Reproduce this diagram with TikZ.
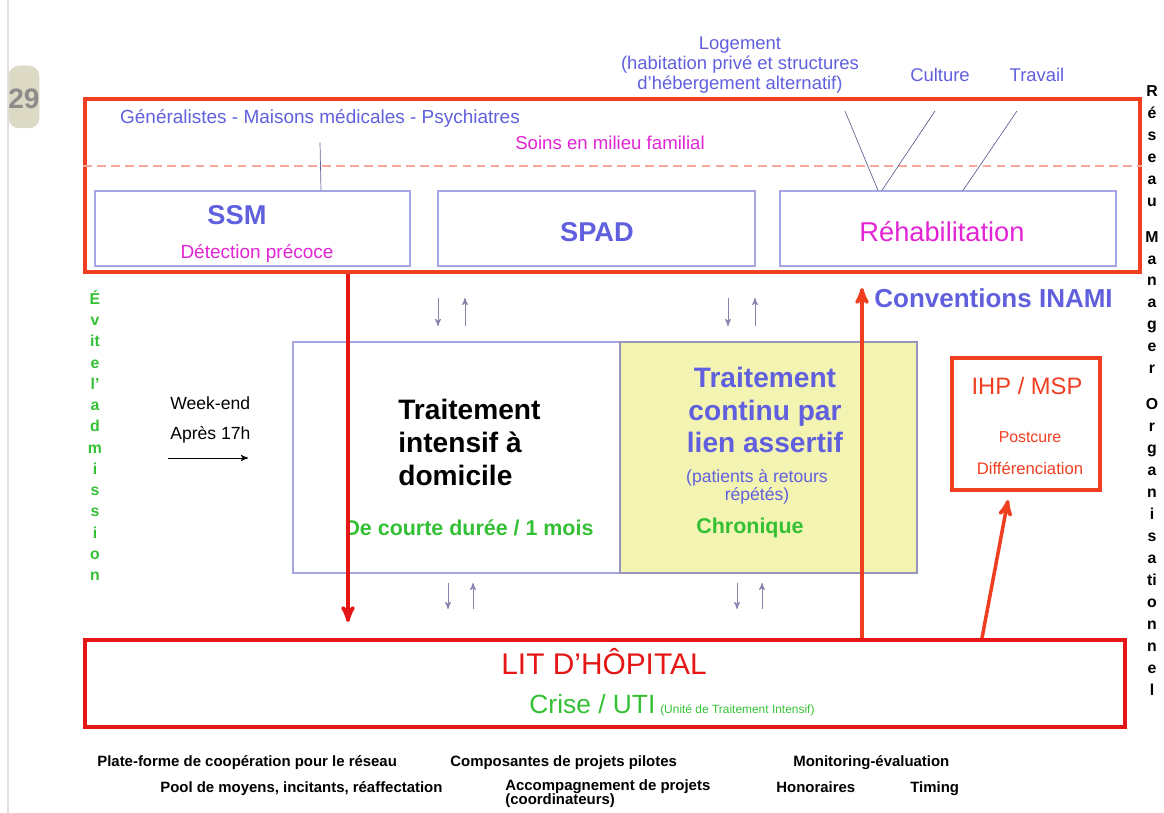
\documentclass[tikz,border=0pt]{standalone}
\usepackage{fontspec}
\setmainfont{Liberation Sans}
\usetikzlibrary{calc,fit,arrows}

\definecolor{frame}{RGB}{240,62,32}
\definecolor{hosp}{RGB}{228,22,22}
\definecolor{ink}{RGB}{96,96,222}
\definecolor{pink}{RGB}{226,36,212}
\definecolor{grn}{RGB}{52,192,52}
\definecolor{lilac}{RGB}{165,165,228}
\definecolor{pale}{RGB}{243,243,178}
\definecolor{wire}{RGB}{100,100,150}
\definecolor{badge}{RGB}{220,217,196}

\newcommand{\fs}[2]{\fontsize{#1}{#2}\selectfont}

\tikzset{
  redbox/.style={draw=frame,line width=2.2pt,inner sep=0pt},
  thinbox/.style={draw=lilac,line width=0.6pt,inner sep=0pt},
  lab/.style={inner sep=0pt,align=center},
  pair/.style={draw=wire!80,line width=0.5pt,->,>=stealth'},
  bigarrow/.style={line width=2pt,->,>=stealth'},
  foot/.style={inner sep=0pt,anchor=base west,font=\bfseries\fs{8.5}{10}},
}

\begin{document}
\begin{tikzpicture}[x=0.02cm,y=-0.02cm]
\useasboundingbox (0,0) rectangle (1164,813);
\draw[black!12,line width=1pt] (8,0) -- (8,813);
\node[fill=badge,rounded corners=6pt,minimum width=0.62cm,minimum height=1.25cm,inner sep=0pt] (page) at (24,97) {};
\node[lab,text=black!45,font=\bfseries\fs{16}{18}] at (24,99) {29};

% upper frame
\node[redbox,fit={(85,99) (1140,272)}] (top) {};
\coordinate (dash) at (0,166);
\draw[frame!45,line width=0.7pt,dash pattern=on 5pt off 3pt] (top.west |- dash) -- (top.east |- dash);
\node[lab,text=ink,font=\fs{10.8}{13}] (gen) at (320,118) {Généralistes - Maisons médicales - Psychiatres};
\node[lab,text=pink,font=\fs{10.6}{13}] (soins) at (610,143) {Soins en milieu familial};

\node[thinbox,fit={(95,191) (410,266)}] (ssm) {};
\node[thinbox,fit={(438,191) (755,266)}] (spad) {};
\node[thinbox,fit={(780,191) (1116,266)}] (rehab) {};
\node[lab,text=ink,font=\bfseries\fs{15.5}{18}] at (237,215) {SSM};
\node[lab,text=pink,font=\fs{10.8}{13}] at (257,253) {Détection précoce};
\node[lab,text=ink,font=\bfseries\fs{15.5}{18}] at (597,232) {SPAD};
\node[lab,text=pink,font=\fs{15.5}{18}] at (942,232) {Réhabilitation};

\draw[wire] ([yshift=-0.3cm]gen.south) -- (ssm.north -| 321,0);

\node[lab,text=ink,font=\fs{10.5}{11.5}] (loge) at (740,65) {Logement\\(habitation privé et structures\\d'hébergement alternatif)};
\node[lab,text=ink,font=\fs{10.5}{13}] (cult) at (940,75) {Culture};
\node[lab,text=ink,font=\fs{10.5}{13}] (trav) at (1037,75) {Travail};
\coordinate (l1) at (845,111);
\coordinate (l2) at (935,111);
\coordinate (l3) at (1017,111);
\draw[wire] (l1) -- (rehab.north -| 878,0);
\draw[wire] (l2) -- (rehab.north -| 882,0);
\draw[wire] (l3) -- (rehab.north -| 963,0);

% side texts
\node[lab,anchor=north,text=grn,font=\bfseries\fs{9}{12.1}] (evite) at (95,290)
  {É\\v\\it\\e\\l'\\a\\d\\m\\i\\s\\s\\i\\o\\n};
\node[lab,anchor=north,font=\bfseries\fs{9}{12.5}] (reseau) at (1152,85)
  {R\\é\\s\\e\\a\\u\\[8pt]M\\a\\n\\a\\g\\e\\r\\[8pt]O\\r\\g\\a\\n\\i\\s\\a\\ti\\o\\n\\n\\e\\l};

% middle boxes
\node[thinbox,fill=white,fit={(293,342) (620,573)}] (home) {};
\node[draw=lilac!60!gray,fill=pale,line width=0.6pt,inner sep=0pt,fit={(620,342) (917,573)}] (chron) {};
\node[lab,anchor=north west,align=left,font=\bfseries\fs{16}{18.7}] at (398,399) {Traitement\\intensif à\\domicile};
\node[lab,text=grn,font=\bfseries\fs{12.2}{14}] at (469,528) {De courte durée / 1 mois};
\node[lab,text=ink,font=\bfseries\fs{16}{18.3}] at (765,410) {Traitement\\continu par\\lien assertif};
\node[lab,text=ink,font=\fs{10}{10.3}] at (757,487) {(patients à retours\\répétés)};
\node[lab,text=grn,font=\bfseries\fs{12.2}{14}] at (750,528) {Chronique};

\node[lab,anchor=west,align=left,font=\fs{10}{17}] (week) at (170,420) {Week-end\\Après 17h};
\coordinate (w1) at (168,458);
\coordinate (w2) at (248,458);
\draw[line width=0.5pt,->,>=stealth'] (w1) -- (w2);

\foreach \x in {438,728} {
  \draw[pair] (\x,298) -- (\x,326);
  \draw[pair] (\x+27,326) -- (\x+27,298);
}
\foreach \x in {448,737} {
  \draw[pair] (\x,583) -- (\x,609);
  \draw[pair] (\x+25,609) -- (\x+25,583);
}

% right side
\node[lab,anchor=west,text=ink,font=\bfseries\fs{14.8}{16}] (inami) at (874,298) {Conventions INAMI};
\node[redbox,fit={(952,358) (1100,490)}] (ihp) {};
\node[lab,text=frame,font=\fs{13.5}{16}] at (1027,386) {IHP / MSP};
\node[lab,text=frame,font=\fs{9}{11}] at (1030,437) {Postcure};
\node[lab,text=frame,font=\fs{9.5}{11}] at (1030,468) {Différenciation};

% hospital
\node[redbox,draw=hosp,fit={(85,640) (1125,727)}] (lit) {};
\node[lab,text=hosp,font=\fs{17}{20}] at (604,662) {LIT D'HÔPITAL};
\node[lab,text=grn] at (672,705) {{\fs{15}{18}Crise / UTI} {\fs{6.8}{8}(Unité de Traitement Intensif)}};

\coordinate (dn) at (348,622);
\coordinate (up) at (862,288);
\coordinate (ih) at (1008,500);
\draw[bigarrow,hosp] (top.south -| dn) -- (dn);
\draw[bigarrow,frame] (lit.north -| up) -- (up);
\draw[bigarrow,frame] (lit.north -| 982,0) -- (ih);

% footer
\node[foot] at (97,767) {Plate-forme de coopération pour le réseau};
\node[foot] at (450,767) {Composantes de projets pilotes};
\node[foot] at (793,767) {Monitoring-évaluation};
\node[foot] at (160,793) {Pool de moyens, incitants, réaffectation};
\node[foot,anchor=north west,align=left,font=\bfseries\fs{8.5}{8.4}] at (505,779) {Accompagnement de projets\\(coordinateurs)};
\node[foot] at (776,793) {Honoraires};
\node[foot] at (910,793) {Timing};
\end{tikzpicture}
\end{document}
